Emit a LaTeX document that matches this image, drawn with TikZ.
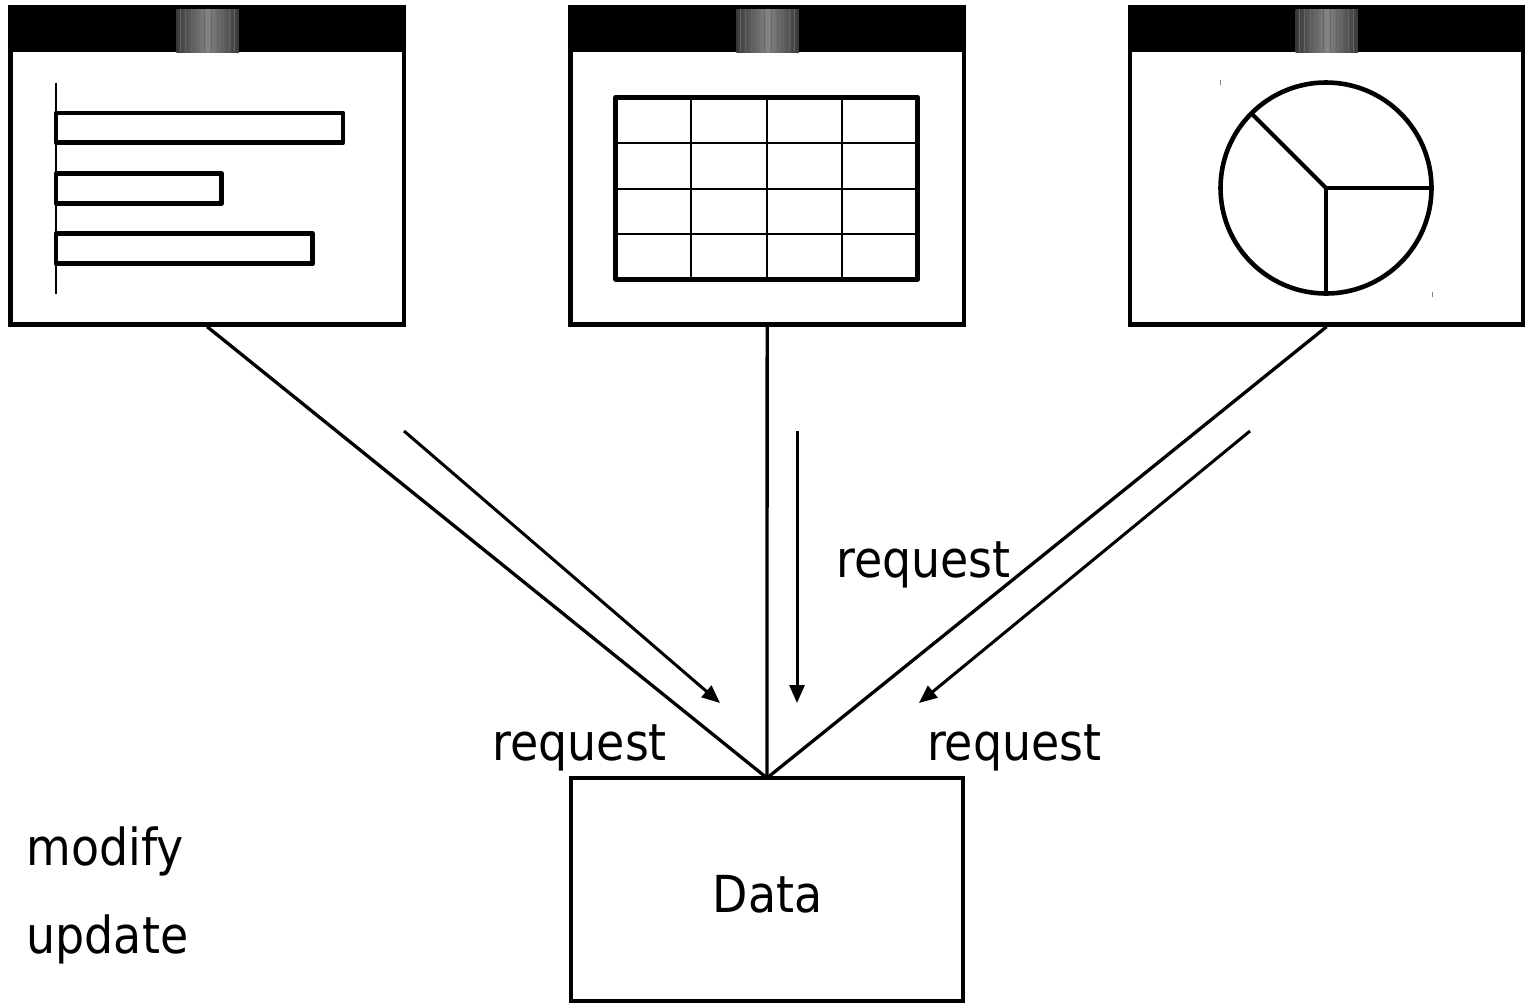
\documentclass[tikz,border=0pt]{standalone}
\usepackage{fontspec}
\setmainfont{DejaVu Sans}[FakeStretch=0.9]
\usetikzlibrary{arrows.meta}
\begin{document}
\begin{tikzpicture}[x=1pt,y=-1pt,
  lbl/.style={font=\fontsize{51}{61}\selectfont, inner sep=0pt},
  conn/.style={line width=3.3pt, draw=black},
  arr/.style={line width=3pt, -{Triangle[length=18pt,width=15pt]}},
  thick bar/.style={line width=4.6pt, line join=round},
  thin grid/.style={line width=2.2pt},
  knob/.style={left color=black!78, right color=black!78, middle color=black!48},
  databox/.style={draw=black, line width=4.4pt, minimum width=392pt, minimum height=223pt, inner sep=0pt, outer sep=0pt},
  win/.pic={
    \fill[black] (0,0) rectangle (397.7,322);
    \fill[white] (4.4,47.6) rectangle (393.4,317.2);
    \shade[knob] (168,4.3) rectangle (230.5,47.6);
    \foreach \s in {172,177,183,190,196,203,209,215,221,226}
      \draw[black!60, line width=0.6pt] (\s,4.3) -- (\s,47.6);
    \node[inner sep=0pt, outer sep=0pt, minimum width=397.7pt, minimum height=322pt] (-body) at (198.85,161) {};
  }]
\useasboundingbox (0,0) rectangle (1531,1005);
\fill[white] (0,0) rectangle (1531,1005);

% windows
\pic (w1) at (8.3,4.7) {win};
\pic (w2) at (568.3,4.7) {win};
\pic (w3) at (1127.7,4.7) {win};

% bar chart
\draw[line width=1.8pt] (55.7,82.7) -- (55.7,294.3);
\draw[thick bar] (56,113) rectangle (343,142.7);
\draw[thick bar] (56,173.7) rectangle (221.7,203.3);
\draw[thick bar] (56,233.7) rectangle (312.7,263.7);

% table
\foreach \gx in {690.7,766.7,842.3} \draw[thin grid] (\gx,97.3) -- (\gx,279.3);
\foreach \gy in {143.3,188.7,234} \draw[thin grid] (615.7,\gy) -- (917.7,\gy);
\draw[thick bar] (615.7,97.3) rectangle (917.7,279.3);

% pie
\draw[line width=4.6pt] (1326,188) circle (105.5pt);
\draw[line width=4pt] (1326,188) -- (1431.5,188);
\draw[line width=4pt] (1326,188) -- (1326,293.5);
\draw[line width=4pt] (1326,188) -- (1251.4,113.4);
\draw[black!50, line width=1pt] (1220.7,80) -- (1220.7,85);
\draw[black!50, line width=1pt] (1432.3,292) -- (1432.3,297);

% data store
\node[databox] (data) at (767,889.5) {};
\node[lbl, anchor=base] (datalbl) at (767.5,912) {Data};

% connectors
\draw[conn] (w1-body.south) -- (data.north);
\draw[conn] (w2-body.south) -- (data.north);
\draw[conn] (w3-body.south) -- (data.north);

% request arrows
\coordinate (a1s) at (404,431);
\coordinate (a1e) at (720,703);
\coordinate (a2s) at (797,431);
\coordinate (a2e) at (797,703);
\coordinate (a3s) at (1250,431);
\coordinate (a3e) at (919,703);
\draw[arr] (a1s) -- (a1e);
\draw[arr] (a2s) -- (a2e);
\draw[arr] (a3s) -- (a3e);

% labels
\node[lbl, anchor=base] (req2) at (923.5,577) {request};
\node[lbl, anchor=base] (req1) at (579.7,760) {request};
\node[lbl, anchor=base] (req3) at (1014.3,760) {request};
\node[lbl, anchor=base] (mod) at (105.5,865) {modify};
\node[lbl, anchor=base] (upd) at (107.4,953) {update};
\end{tikzpicture}
\end{document}
